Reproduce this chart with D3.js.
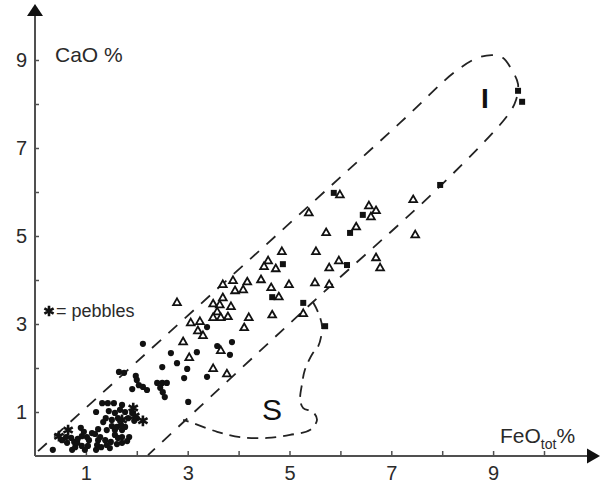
<!DOCTYPE html>
<html>
<head>
<meta charset="utf-8">
<script src="https://cdn.jsdelivr.net/npm/d3@7"></script>
<style>
body{margin:0;background:#fff;}
svg{display:block;font-family:"Liberation Sans",Arial,sans-serif;}
</style>
</head>
<body>
<svg width="600" height="483"></svg>
<script>
// [FeOtot %, CaO %]
var circles = [
[0.35,0.14],[0.53,0.36],[0.61,0.43],[0.63,0.30],[0.71,0.41],[0.77,0.32],[0.73,0.14],[0.79,0.20],
[0.83,0.30],[0.84,0.39],[0.90,0.64],[0.92,0.45],[0.96,0.55],[1.02,0.43],[1.06,0.36],[1.04,0.23],
[0.92,0.23],[0.98,0.14],[1.12,0.52],[1.18,0.50],[1.28,0.43],[1.38,0.36],[1.49,0.32],[1.24,0.61],
[1.41,0.59],[1.57,0.59],[1.71,0.59],[1.24,0.36],[1.22,0.25],[1.20,0.14],[1.30,0.20],[1.41,0.25],
[1.47,0.18],[1.57,0.48],[1.63,0.41],[1.71,0.43],[1.85,0.43],[1.61,0.27],[1.71,0.30],[1.81,0.34],
[1.51,0.68],[1.61,0.66],[1.69,0.70],[1.77,0.66],[1.39,0.86],[1.34,0.77],[1.51,0.82],[1.63,0.86],
[1.91,0.98],[1.83,0.86],[1.95,0.80],[2.00,0.86],[1.20,1.00],[1.32,1.20],[1.43,1.20],[1.55,1.20],
[1.71,1.16],[1.45,1.02],[1.57,0.98],[1.67,1.05],[1.77,1.00],[1.65,1.91],[1.75,1.89],[1.98,1.82],
[2.00,1.73],[1.91,1.52],[2.04,1.61],[2.12,1.57],[2.20,1.50],[2.12,2.55],[2.50,2.02],[2.67,2.34],
[2.79,2.11],[3.18,2.36],[2.99,1.98],[2.93,1.77],[2.40,1.66],[2.50,1.66],[2.59,1.66],[2.46,1.55],
[2.51,1.45],[2.55,1.34],[3.01,1.23],[3.38,2.93],[3.58,2.50],[3.87,2.59],[3.83,2.30],[3.38,1.80]
];
var triangles = [
[2.91,2.59],[3.03,2.23],[3.50,1.98],[3.77,1.86],[3.65,2.39],[3.06,3.02],[3.24,3.05],[3.20,2.84],
[3.30,2.73],[2.79,3.48],[3.50,3.45],[3.63,3.43],[3.69,3.59],[3.85,3.39],[3.58,3.27],[3.50,3.14],
[3.65,3.14],[3.79,3.16],[3.69,3.89],[3.89,3.98],[4.17,3.95],[3.93,3.75],[4.09,3.77],[4.20,3.14],
[4.11,2.91],[4.44,4.00],[4.64,3.82],[4.79,3.61],[4.66,3.20],[4.58,4.43],[4.50,4.30],[4.73,4.25],
[4.85,4.64],[5.52,4.64],[4.99,3.89],[5.50,3.93],[5.78,3.89],[5.27,3.23],[5.38,5.52],[5.99,5.93],
[5.72,5.07],[6.31,5.20],[6.56,5.68],[6.70,5.57],[6.60,5.43],[5.97,4.43],[5.78,4.27],[6.70,4.50],
[6.78,4.27],[7.43,5.82],[7.47,5.02]
];
var squares = [
[5.87,5.98],[6.44,5.48],[6.19,5.07],[4.87,4.36],[6.13,4.34],[4.66,3.61],[5.27,3.48],[5.70,2.95],
[7.96,6.16],[9.49,8.30],[9.57,8.05]
];
var pebbles = [[0.47,0.45],[0.65,0.59],[1.71,0.82],[1.93,1.09],[1.96,0.91],[2.12,0.80]];

// field outlines
var fieldI = [[0.06,0.11],[7.17,7.57],[8.25,8.73],[8.70,9.05],[9.00,9.11],[9.19,9.05],[9.39,8.73],
[9.49,8.45],[9.45,8.09],[9.29,7.75],[8.02,6.20],[5.46,3.50],[2.22,0.02]];
var fieldS = [[5.46,3.50],[5.56,3.27],[5.64,2.93],[5.56,2.48],[5.46,2.34],[5.30,1.95],[5.25,1.66],
[5.21,1.27],[5.27,1.09],[5.46,1.00],[5.54,0.82],[5.40,0.59],[5.01,0.48],[4.56,0.41],[4.03,0.43],
[3.58,0.55],[3.05,0.77],[2.91,0.82]];

var xTicks = [1,2,3,4,5,6,7,8,9,10];
var yTicks = [1,2,3,4,5,6,7,8,9];
var tickLabels = [1,3,5,7,9];

var svg = d3.select("svg");
var x = d3.scaleLinear().domain([0,10]).range([35,544]);
var y = d3.scaleLinear().domain([0,9]).range([456,60]);
var axisColor = "#505050";
var textColor = "#2a2a2a";

// axes
var gx = svg.append("g").attr("transform","translate(0,456)")
	.call(d3.axisBottom(x).tickValues(xTicks).tickSize(-5).tickPadding(10)
		.tickFormat(function(d){ return tickLabels.indexOf(d) >= 0 ? d : ""; }));
var gy = svg.append("g").attr("transform","translate(35,0)")
	.call(d3.axisLeft(y).tickValues(yTicks).tickSize(-4).tickPadding(8)
		.tickFormat(function(d){ return tickLabels.indexOf(d) >= 0 ? d : ""; }));
[gx,gy].forEach(function(g){
	g.select(".domain").remove();
	g.selectAll(".tick line").attr("stroke",axisColor).attr("stroke-width",1.5);
	g.selectAll(".tick text").attr("fill",textColor).style("font-size","20px")
		.style("font-family","'Liberation Sans',Arial,sans-serif");
});

svg.append("line").attr("x1",35).attr("y1",456).attr("x2",590).attr("y2",456)
	.attr("stroke",axisColor).attr("stroke-width",2);
svg.append("line").attr("x1",35).attr("y1",456).attr("x2",35).attr("y2",12)
	.attr("stroke",axisColor).attr("stroke-width",2);
svg.append("path").attr("d","M600,456 L587,448.5 L587,463.5 Z").attr("fill","#111");
svg.append("path").attr("d","M35,4 L27,16 L43,16 Z").attr("fill","#111");

// axis titles
svg.append("text").attr("x",55).attr("y",62).attr("fill",textColor)
	.style("font-size","21px").text("CaO %");
var ft = svg.append("text").attr("x",500).attr("y",443).attr("fill",textColor).style("font-size","21px");
ft.append("tspan").text("FeO");
ft.append("tspan").attr("dy",6).style("font-size","14px").text("tot");
ft.append("tspan").attr("dy",-6).text("%");

// fields
var line = d3.line()
	.x(function(d){ return x(d[0]); })
	.y(function(d){ return y(d[1]); })
	.curve(d3.curveCatmullRom.alpha(0.5));
svg.append("path").attr("d",line(fieldI)).attr("fill","none")
	.attr("stroke","#222").attr("stroke-width",1.8).attr("stroke-dasharray","12,10");
svg.append("path").attr("d",line(fieldS)).attr("fill","none")
	.attr("stroke","#222").attr("stroke-width",1.8).attr("stroke-dasharray","11,7");

svg.append("text").attr("x",485).attr("y",108).attr("text-anchor","middle")
	.attr("fill","#111").style("font-size","28px").style("font-weight","bold").text("I");
svg.append("text").attr("x",272).attr("y",420).attr("text-anchor","middle")
	.attr("fill","#111").style("font-size","30px").text("S");

// points
svg.selectAll("circle.pt")
	.data(circles)
	.enter()
	.append("circle")
	.attr("class","pt")
	.attr("cx",function(d){ return x(d[0]); })
	.attr("cy",function(d){ return y(d[1]); })
	.attr("r",3.1)
	.attr("fill","#111");

svg.selectAll("path.tri")
	.data(triangles)
	.enter()
	.append("path")
	.attr("class","tri")
	.attr("d",d3.symbol(d3.symbolTriangle,26))
	.attr("transform",function(d){ return "translate(" + x(d[0]) + "," + y(d[1]) + ")"; })
	.attr("fill","#fff")
	.attr("stroke","#111")
	.attr("stroke-width",1.8);

svg.selectAll("rect.sq")
	.data(squares)
	.enter()
	.append("rect")
	.attr("class","sq")
	.attr("x",function(d){ return x(d[0]) - 3; })
	.attr("y",function(d){ return y(d[1]) - 3; })
	.attr("width",6)
	.attr("height",6)
	.attr("fill","#111");

var star = d3.symbol(d3.symbolAsterisk,80);
svg.selectAll("path.peb")
	.data(pebbles)
	.enter()
	.append("path")
	.attr("class","peb")
	.attr("d",star)
	.attr("transform",function(d){ return "translate(" + x(d[0]) + "," + y(d[1]) + ")"; })
	.attr("fill","none")
	.attr("stroke","#111")
	.attr("stroke-width",2.6);

// legend
svg.append("path").attr("d",star).attr("transform","translate(49,311)")
	.attr("fill","none").attr("stroke","#111").attr("stroke-width",2.6);
svg.append("text").attr("x",56).attr("y",317).attr("fill",textColor)
	.style("font-size","18px").text("= pebbles");
</script>
</body>
</html>
